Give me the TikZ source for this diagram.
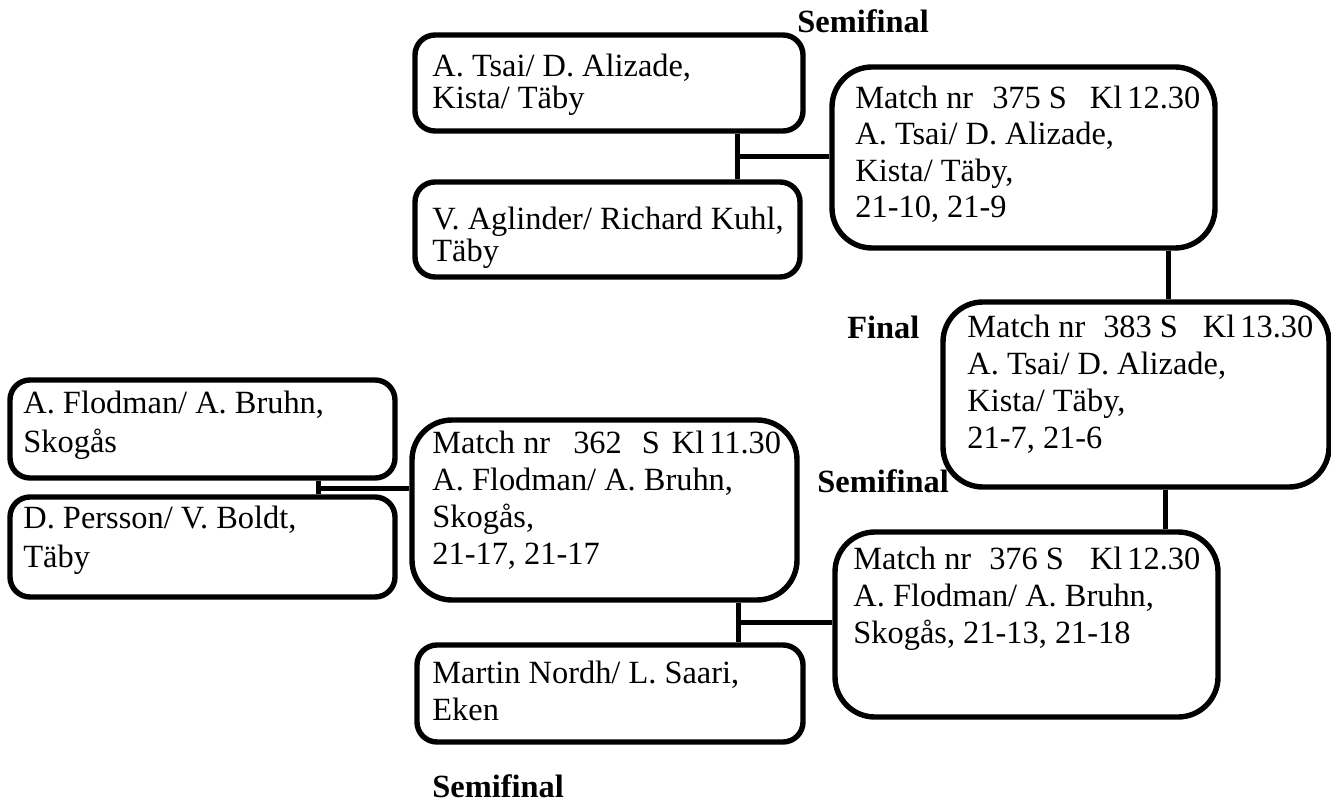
\documentclass[tikz,border=0pt]{standalone}
\usepackage{fontspec}
\setmainfont{Liberation Serif}
\begin{document}
\begin{tikzpicture}[x={(0.5pt,0)}, y={(0,-0.5pt)},
  bx/.style={draw, line width=2.7pt, rounded corners=10pt, inner sep=0pt},
  mbx/.style={bx, rounded corners=20pt},
  txt/.style={anchor=base west, align=left, inner sep=0pt, font=\fontsize{16.2pt}{#1}\selectfont},
  lbl/.style={anchor=base west, inner sep=0pt, font=\fontsize{16.2pt}{18pt}\selectfont\bfseries},
  con/.style={line width=2.5pt}]
\useasboundingbox (0,0) rectangle (1331,806);
% boxes
\node[bx,  minimum width=194pt,   minimum height=48pt]   (b1)   at (609,83) {};
\node[bx,  minimum width=192.5pt, minimum height=47.5pt] (b2)   at (607.5,229.5) {};
\node[mbx, minimum width=191.5pt, minimum height=90.5pt] (m375) at (1023.5,157.5) {};
\node[mbx, minimum width=193pt,   minimum height=92.5pt] (m383) at (1136,394.5) {};
\node[bx,  minimum width=192.5pt, minimum height=49pt]   (a)    at (202.5,429) {};
\node[bx,  minimum width=192.5pt, minimum height=50pt]   (d)    at (202.5,547) {};
\node[mbx, minimum width=192.5pt, minimum height=90pt]   (m362) at (604.5,510) {};
\node[mbx, minimum width=191.5pt, minimum height=92.5pt] (m376) at (1026.5,624.5) {};
\node[bx,  minimum width=193pt,   minimum height=48.5pt] (mn)   at (610,693.5) {};
% texts (anchored at the baseline of their last line)
\node[txt=16pt]   (tb1)   at (432,109) {A. Tsai/ D. Alizade,\\Kista/ Täby};
\node[txt=16pt]   (tb2)   at (432,262) {V. Aglinder/ Richard Kuhl,\\Täby};
\node[txt=18.3pt] (tm375) at (855,218) {Match nr\hspace{9.5pt}375 S\hspace{11.5pt}Kl\hspace{2.5pt}12.30\\A. Tsai/ D. Alizade,\\Kista/ Täby,\\21-10, 21-9};
\node[txt=18.5pt] (tm383) at (967,449) {Match nr\hspace{9pt}383 S\hspace{12.5pt}Kl\hspace{2.5pt}13.30\\A. Tsai/ D. Alizade,\\Kista/ Täby,\\21-7, 21-6};
\node[txt=19.5pt] (ta)    at (23,452)  {A. Flodman/ A. Bruhn,\\Skogås};
\node[txt=19.5pt] (td)    at (23,567)  {D. Persson/ V. Boldt,\\Täby};
\node[txt=18.5pt] (tm362) at (432,564) {Match nr\hspace{11.5pt}362\hspace{10pt}S\hspace{6pt}Kl\hspace{2.5pt}11.30\\A. Flodman/ A. Bruhn,\\Skogås,\\21-17, 21-17};
\node[txt=18.5pt] (tm376) at (853,643) {Match nr\hspace{9pt}376 S\hspace{13pt}Kl\hspace{2.5pt}12.30\\A. Flodman/ A. Bruhn,\\Skogås, 21-13, 21-18};
\node[txt=18.5pt] (tmn)   at (432,720) {Martin Nordh/ L. Saari,\\Eken};
% labels
\node[lbl] (l1) at (797,33)  {Semifinal};
\node[lbl] (l2) at (847,339) {Final};
\node[lbl] (l3) at (817,492) {Semifinal};
\node[lbl] (l4) at (432,797) {Semifinal};
% connectors
\coordinate (j1) at (737,157);
\coordinate (j2) at (318,488);
\coordinate (j3) at (738,622);
\coordinate (k1) at (1168,270);
\coordinate (k2) at (1165,510);
\draw[con] (b1.south -| j1) -- (b2.north -| j1);
\draw[con] (j1) -- (j1 -| m375.west);
\draw[con] (a.south -| j2) -- (d.north -| j2);
\draw[con] (j2) -- (j2 -| m362.west);
\draw[con] (m362.south -| j3) -- (mn.north -| j3);
\draw[con] (j3) -- (j3 -| m376.west);
\draw[con] (m375.south -| k1) -- (m383.north -| k1);
\draw[con] (m383.south -| k2) -- (m376.north -| k2);
\end{tikzpicture}
\end{document}
